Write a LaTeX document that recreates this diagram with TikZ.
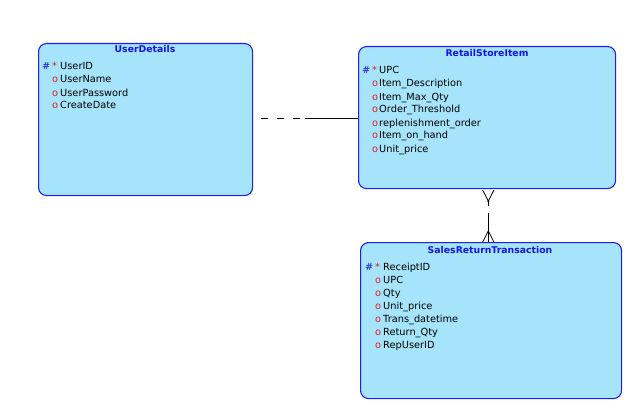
\documentclass[tikz,border=0pt]{standalone}
\usepackage{fontspec}
\setmainfont{DejaVu Sans}
\usetikzlibrary{calc}
\definecolor{entfill}{RGB}{166,228,252}
\definecolor{entline}{RGB}{30,30,240}
\definecolor{titleblue}{RGB}{20,20,230}
\definecolor{keyred}{RGB}{230,30,30}
\begin{document}
\begin{tikzpicture}[x=1pt,y=-1pt,
  entity/.style={draw=entline,fill=entfill,line width=1.1pt,rounded corners=8pt,anchor=north west,inner sep=0pt},
  etitle/.style={font=\fontsize{9.3}{11}\selectfont\bfseries,text=titleblue,anchor=base,inner sep=0pt},
  attr/.style={font=\fontsize{9.8}{12}\selectfont,anchor=base west,inner sep=0pt},
  sym/.style={font=\fontsize{9.8}{12}\selectfont,anchor=base west,inner sep=0pt},
  conn/.style={line width=0.8pt,black}]
\useasboundingbox (0,0) rectangle (631,409);
% entities
\node[entity,minimum width=214pt,minimum height=152pt] (ud) at (38,43) {};
\node[entity,minimum width=257pt,minimum height=142pt] (rsi) at (358,46) {};
\node[entity,minimum width=261pt,minimum height=156pt] (srt) at (360,242) {};
% UserDetails
\node[etitle] (udt) at (145,53) {UserDetails};
\node[sym,text=titleblue] (udh) at (42,70) {\#};
\node[sym,text=keyred] (uds) at (52,70) {*};
\node[attr] (ud1) at (60,70) {UserID};
\node[sym,text=keyred] (udo2) at (52,83) {o};
\node[attr] (ud2) at (60,83) {UserName};
\node[sym,text=keyred] (udo3) at (52,96) {o};
\node[attr] (ud3) at (60,96) {UserPassword};
\node[sym,text=keyred] (udo4) at (52,109) {o};
\node[attr] (ud4) at (60,109) {CreateDate};
% RetailStoreItem
\node[etitle] (rsit) at (487,57) {RetailStoreItem};
\node[sym,text=titleblue] (rsih) at (362,74) {\#};
\node[sym,text=keyred] (rsis) at (372,74) {*};
\node[attr] (rsi1) at (379,74) {UPC};
\node[sym,text=keyred] (rsio2) at (372,87) {o};
\node[attr] (rsi2) at (379,87) {Item\_Description};
\node[sym,text=keyred] (rsio3) at (372,100) {o};
\node[attr] (rsi3) at (379,100) {Item\_Max\_Qty};
\node[sym,text=keyred] (rsio4) at (372,113) {o};
\node[attr] (rsi4) at (379,113) {Order\_Threshold};
\node[sym,text=keyred] (rsio5) at (372,126) {o};
\node[attr] (rsi5) at (379,126) {replenishment\_order};
\node[sym,text=keyred] (rsio6) at (372,139) {o};
\node[attr] (rsi6) at (379,139) {Item\_on\_hand};
\node[sym,text=keyred] (rsio7) at (372,152) {o};
\node[attr] (rsi7) at (379,152) {Unit\_price};
% SalesReturnTransaction
\node[etitle] (srtt) at (490,253) {SalesReturnTransaction};
\node[sym,text=titleblue] (srth) at (365,270) {\#};
\node[sym,text=keyred] (srts) at (375,270) {*};
\node[attr] (srt1) at (383,270) {ReceiptID};
\node[sym,text=keyred] (srto2) at (375,283) {o};
\node[attr] (srt2) at (383,283) {UPC};
\node[sym,text=keyred] (srto3) at (375,296) {o};
\node[attr] (srt3) at (383,296) {Qty};
\node[sym,text=keyred] (srto4) at (375,309) {o};
\node[attr] (srt4) at (383,309) {Unit\_price};
\node[sym,text=keyred] (srto5) at (375,322) {o};
\node[attr] (srt5) at (383,322) {Trans\_datetime};
\node[sym,text=keyred] (srto6) at (375,335) {o};
\node[attr] (srt6) at (383,335) {Return\_Qty};
\node[sym,text=keyred] (srto7) at (375,348) {o};
\node[attr] (srt7) at (383,348) {RepUserID};
% UserDetails -- RetailStoreItem
\coordinate (ha) at (261,118);
\coordinate (hm) at (305,118);
\draw[conn,dash pattern=on 7pt off 9pt] (ha) -- (hm);
\draw[conn] (hm) -- (hm -| rsi.west);
% RetailStoreItem -- SalesReturnTransaction
\coordinate (cx) at (488.3,0);
\coordinate (ct) at (rsi.south -| cx);
\coordinate (cb) at (srt.north -| cx);
\coordinate (ctj) at ($(ct)+(0,12)$);
\draw[conn] ($(ct)+(-5.6,1)$) -- (ctj) -- ($(ct)+(5.6,1)$);
\fill (ctj) circle (1.1pt);
\draw[conn] (ctj) -- ++(0,5);
\coordinate (cbj) at ($(cb)+(0,-11)$);
\draw[conn] ($(cb)+(0,-29)$) -- (cb);
\draw[conn] ($(cb)+(-5.6,0)$) -- (cbj) -- ($(cb)+(5.6,0)$);
\end{tikzpicture}
\end{document}
